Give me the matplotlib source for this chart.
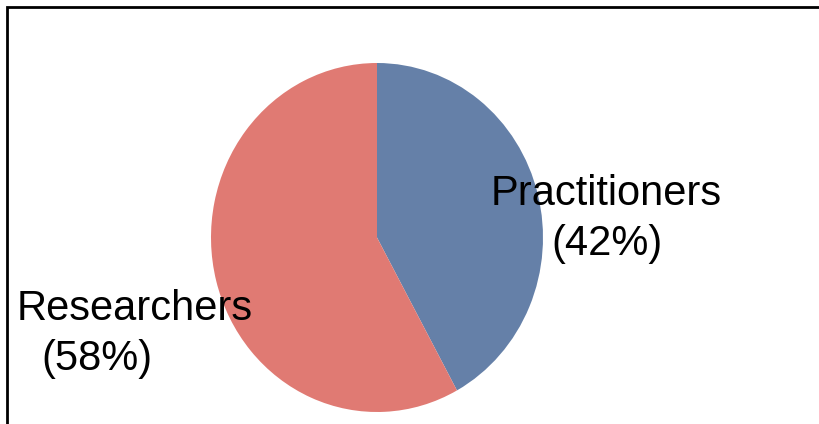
import matplotlib.pyplot as plt
from matplotlib.patches import Rectangle

plt.rcParams["font.family"] = ["Liberation Sans", "DejaVu Sans"]

labels = ["Practitioners", "Researchers"]
shares = [42, 58]
colors = ["#6580A8", "#E07A73"]

W, H = 820, 424
fig = plt.figure(figsize=(W / 100, H / 100), dpi=100)

# pie area in pixels: x 211-543, y 63-412 (slightly squashed)
left, right, top, bottom = 211, 543, 63, 412
ax = fig.add_axes([left / W, (H - bottom) / H, (right - left) / W, (bottom - top) / H])
ax.pie(shares, colors=colors, startangle=90, counterclock=False,
       wedgeprops=dict(linewidth=0))
ax.set_aspect("auto")
ax.set_xlim(-1, 1)
ax.set_ylim(-1, 1)
ax.axis("off")

# chart border (right/bottom edges fall outside the picture)
fig.patches.append(Rectangle((7 / W, -0.1), 1.2, (H - 7) / H + 0.1,
                             transform=fig.transFigure, fill=False,
                             edgecolor="black", linewidth=2.0))

fs = 30
fig.text(606 / W, (H - 205) / H, labels[0], fontsize=fs, ha="center", va="baseline")
fig.text(607 / W, (H - 255) / H, f"({shares[0]}%)", fontsize=fs, ha="center", va="baseline")
fig.text(17 / W, (H - 320) / H, labels[1], fontsize=fs, ha="left", va="baseline")
fig.text(41 / W, (H - 370) / H, f"({shares[1]}%)", fontsize=fs, ha="left", va="baseline")

fig.savefig("out.png", dpi=100)
